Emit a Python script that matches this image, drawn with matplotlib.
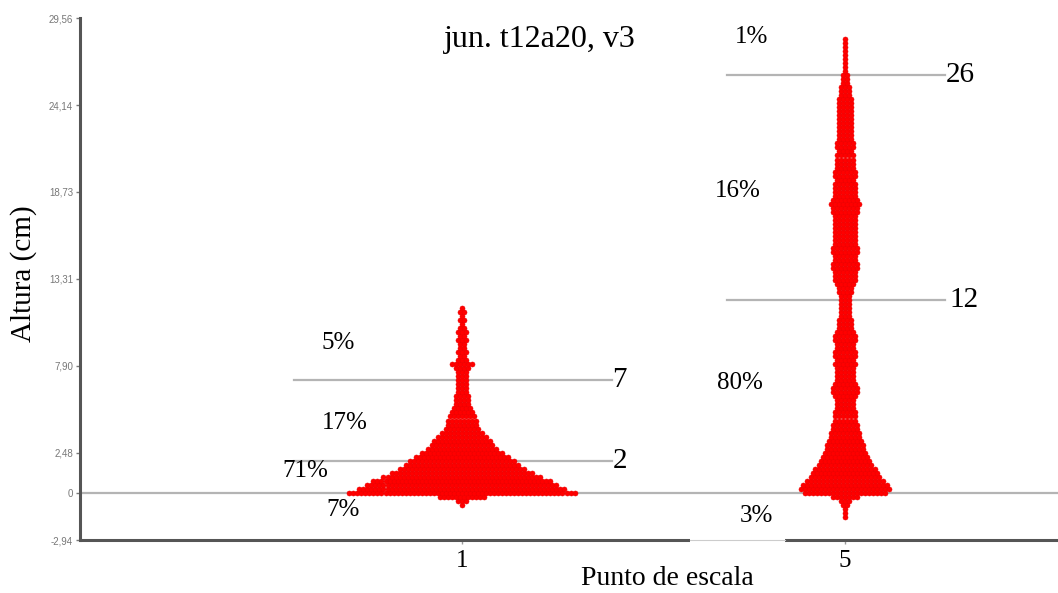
import numpy as np
import matplotlib
matplotlib.use("Agg")
import matplotlib.pyplot as plt
from matplotlib.patches import Rectangle

# ---------------- data ----------------
categories = ["1", "5"]
bin_step = 0.25

# dot-histogram counts (dots per 0.25 cm row)
cat1_start = -0.75
cat1_counts = [1, 3, 12,
               57, 52, 48, 45, 40, 36, 32, 29, 27, 24, 21, 18, 16, 15, 13, 11,
               9, 8, 8, 7, 6, 5, 4, 4, 4, 3, 3, 3, 3, 3, 3, 4, 6, 3, 2, 3, 2, 2,
               3, 2, 3, 2, 1, 2, 1, 2, 1]

cat5_start = -1.5
cat5_counts = [1, 1, 1, 2, 3, 7,
               21, 23, 22, 20, 18, 17, 16, 14, 13, 12, 11, 10, 10, 9, 8, 8,
               7, 7, 6, 6, 6, 5, 5, 5, 6, 7, 7, 6, 5, 5, 5, 5, 6, 5, 6, 6,
               5, 5, 6, 6, 5, 4, 4, 4, 3, 3, 3, 3, 3, 3, 4, 4, 5, 6, 6, 6,
               7, 7, 6, 6, 7, 7, 6, 6, 6, 6, 6, 6, 6, 6, 7, 7, 8, 7, 6, 6,
               6, 6, 5, 6, 6, 5, 5, 5, 5, 4, 5, 5, 4, 4, 4, 4, 4, 4, 4, 4,
               4, 4, 4, 3, 3, 3, 2, 2, 2, 1, 1, 1, 1, 1, 1, 1, 1, 1]

yticks = [-2.94, 0, 2.48, 7.90, 13.31, 18.73, 24.14, 29.56]
ytick_labels = ["-2,94", "0", "2,48", "7,90", "13,31", "18,73", "24,14", "29,56"]

cat1_cuts = [2, 7]
cat5_cuts = [12, 26]
cat1_pcts = ["7%", "71%", "17%", "5%"]
cat5_pcts = ["3%", "80%", "16%", "1%"]

title = "jun. t12a20, v3"
xlabel = "Punto de escala"
ylabel = "Altura (cm)"

# ---------------- figure ----------------
fig = plt.figure(figsize=(10.58, 5.93), dpi=100)
ax = fig.add_axes([80/1058, 53/593, 978/1058, 522/593])
ax.set_xlim(-0.997, 1.556)
ax.set_ylim(-2.94, 29.56)

serif = ["Liberation Serif", "DejaVu Serif"]
red = "#ff0000"
grey_line = "#b4b4b4"
dx = 0.0105

def draw_swarm(xc, start, counts):
    xs, ys = [], []
    for k, n in enumerate(counts):
        y = start + k * bin_step
        offs = (np.arange(n) - (n - 1) / 2.0) * dx
        xs.extend(xc + offs)
        ys.extend([y] * n)
    ax.scatter(xs, ys, s=13, color=red, edgecolors="#ec0000",
               linewidths=0.4, zorder=3)

# grey reference lines
ax.axhline(0, color=grey_line, lw=1.6, zorder=1)
for c in cat1_cuts:
    ax.plot([-0.439, 0.392], [c, c], color=grey_line, lw=1.6, zorder=1)
for c in cat5_cuts:
    ax.plot([0.692, 1.262], [c, c], color=grey_line, lw=1.6, zorder=1)

draw_swarm(0, cat1_start, cat1_counts)
draw_swarm(1, cat5_start, cat5_counts)

# cut labels
lab_fs = 21
ax.text(0.393, 7, "7", fontsize=lab_fs, family=serif, va="center", ha="left")
ax.text(0.393, 2, "2", fontsize=lab_fs, family=serif, va="center", ha="left")
ax.text(1.262, 26, "26", fontsize=lab_fs, family=serif, va="center", ha="left")
ax.text(1.273, 12, "12", fontsize=lab_fs, family=serif, va="center", ha="left")

# percent labels
pct_fs = 18
p1_pos = [(-0.311, -1.06), (-0.41, 1.37), (-0.305, 4.36), (-0.324, 9.34)]
for (x, y), t in zip(p1_pos, cat1_pcts):
    ax.text(x, y, t, fontsize=pct_fs, family=serif, ha="center", va="center")
p5_pos = [(0.77, -1.43), (0.726, 6.85), (0.72, 18.8), (0.757, 28.4)]
for (x, y), t in zip(p5_pos, cat5_pcts):
    ax.text(x, y, t, fontsize=pct_fs, family=serif, ha="center", va="center")

# title
fig.text(540/1058, 1 - 40/593, title, fontsize=23, family=serif,
         ha="center", va="center")

# axes styling
for s in ["top", "right"]:
    ax.spines[s].set_visible(False)
for s in ["left", "bottom"]:
    ax.spines[s].set_color("#555555")
    ax.spines[s].set_linewidth(2.2)

ax.set_yticks(yticks)
ax.set_yticklabels(ytick_labels, fontsize=7, color="#777777",
                   family=["Liberation Sans", "DejaVu Sans"])
ax.tick_params(axis="y", length=3, width=1, color="#777777", pad=2)
ax.set_xticks([0, 1])
ax.set_xticklabels(categories, fontsize=18, family=serif)
ax.tick_params(axis="x", length=3, width=1, color="#999999", pad=4)

ax.set_ylabel(ylabel, fontsize=21, family=serif)
ax.set_xlabel(xlabel, fontsize=20, family=serif)
ax.yaxis.set_label_coords(-0.044, 0.51)
ax.xaxis.set_label_coords(0.601, -0.05)

# gap in the bottom axis line
gap = Rectangle((690/1058, 53/593 - 3/593), 95/1058, 6/593,
                transform=fig.transFigure, facecolor="white",
                edgecolor="none", zorder=10)
fig.patches.append(gap)
fig.add_artist(plt.Line2D([690/1058, 785/1058], [53/593, 53/593],
                          transform=fig.transFigure, color="#cccccc",
                          lw=0.8, zorder=11))

fig.savefig("out.png", dpi=100)
